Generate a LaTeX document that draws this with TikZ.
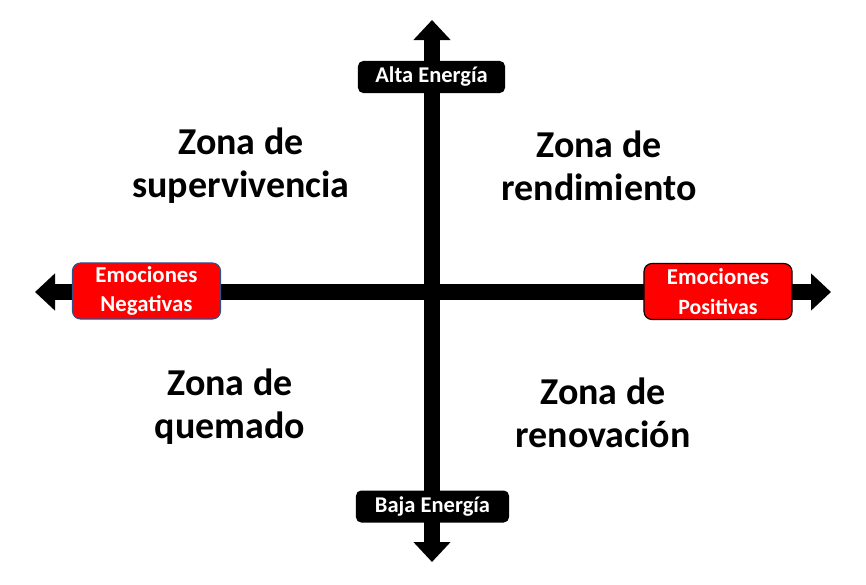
\documentclass[tikz,border=0pt]{standalone}
\usepackage{fontspec}
\setmainfont{Carlito}
\usetikzlibrary{arrows.meta}

\definecolor{azulborde}{HTML}{2F528F}

\tikzset{
  eje/.style={line width=0.4cm,
    {Triangle[length=0.5cm,width=0.9cm]}-{Triangle[length=0.5cm,width=0.9cm]}},
  energia/.style={fill=black, text=white, rounded corners=0.13cm,
    font=\bfseries\fontsize{16}{18}\selectfont,
    minimum height=0.8cm, inner sep=0pt},
  emocion/.style={fill=red, draw, line width=0.8pt, text=white,
    rounded corners=0.2cm, align=center,
    font=\bfseries\fontsize{16.2}{21}\selectfont,
    minimum width=3.7cm, minimum height=1.4cm, inner sep=0pt},
  zona/.style={align=center, font=\bfseries\fontsize{27}{30.5}\selectfont}
}

\begin{document}
\begin{tikzpicture}[x=0.025cm, y=-0.025cm]
    \useasboundingbox (0,0) rectangle (866,584);

    % extremos de los ejes
    \coordinate (arriba) at (432,20);
    \coordinate (abajo) at (432,562);
    \coordinate (izq) at (35,292);
    \coordinate (der) at (831,292);

    % ejes
    \draw[eje] (izq) -- (der);
    \draw[eje] (abajo) -- (arriba);

    % energia
    \node[energia, minimum width=3.675cm] (alta) at (431.5,77) {Alta Energía};
    \node[energia, minimum width=3.825cm] (baja) at (432.5,506.5) {Baja Energía};

    % emociones
    \node[emocion, draw=azulborde] (negativas) at (146.5,291) {Emociones\\Negativas};
    \node[emocion, draw=black] (positivas) at (718,291.5)
      {Emociones\\\fontsize{15.5}{20}\selectfont Positivas};

    % zonas
    \node[zona] (supervivencia) at (241,166) {Zona de\\supervivencia};
    \node[zona] (rendimiento) at (599,166) {Zona de\\rendimiento};
    \node[zona] (quemado) at (230,407) {Zona de\\quemado};
    \node[zona] (renovacion) at (603,413) {Zona de\\renovación};
\end{tikzpicture}
\end{document}
